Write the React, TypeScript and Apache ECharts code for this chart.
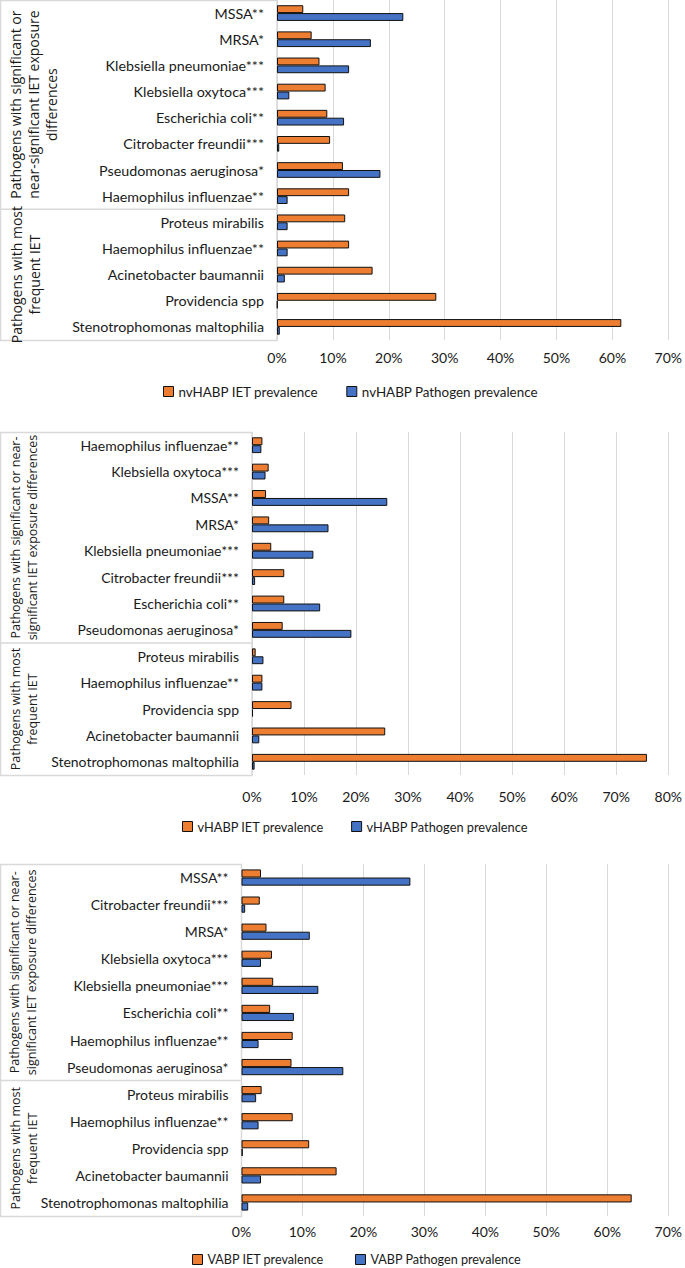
import React, { useEffect, useRef } from "react";
import * as echarts from "echarts";

// ---------- data ----------
const CATS_NV = ["MSSA**", "MRSA*", "Klebsiella pneumoniae***", "Klebsiella oxytoca***", "Escherichia coli**", "Citrobacter freundii***", "Pseudomonas aeruginosa*", "Haemophilus influenzae**", "Proteus mirabilis", "Haemophilus influenzae**", "Acinetobacter baumannii", "Providencia spp", "Stenotrophomonas maltophilia"];
const IET_NV = [4.7, 6.2, 7.6, 8.7, 9.0, 9.5, 11.8, 12.9, 12.2, 12.9, 17.1, 28.5, 61.6];
const PATH_NV = [22.6, 16.8, 12.9, 2.2, 12.0, 0.4, 18.5, 1.9, 1.9, 1.9, 1.4, 0.1, 0.5];

const CATS_V = ["Haemophilus influenzae**", "Klebsiella oxytoca***", "MSSA**", "MRSA*", "Klebsiella pneumoniae***", "Citrobacter freundii***", "Escherichia coli**", "Pseudomonas aeruginosa*", "Proteus mirabilis", "Haemophilus influenzae**", "Providencia spp", "Acinetobacter baumannii", "Stenotrophomonas maltophilia"];
const IET_V = [2.0, 3.2, 2.7, 3.3, 3.7, 6.2, 6.2, 5.9, 0.7, 2.0, 7.6, 25.6, 75.9];
const PATH_V = [1.8, 2.6, 26.0, 14.7, 11.8, 0.6, 13.1, 19.1, 2.2, 2.0, 0.2, 1.4, 0.5];

const CATS_VA = ["MSSA**", "Citrobacter freundii***", "MRSA*", "Klebsiella oxytoca***", "Klebsiella pneumoniae***", "Escherichia coli**", "Haemophilus influenzae**", "Pseudomonas aeruginosa*", "Proteus mirabilis", "Haemophilus influenzae**", "Providencia spp", "Acinetobacter baumannii", "Stenotrophomonas maltophilia"];
const IET_VA = [3.2, 3.0, 4.1, 5.0, 5.2, 4.7, 8.4, 8.2, 3.3, 8.4, 11.1, 15.6, 64.0];
const PATH_VA = [27.7, 0.6, 11.2, 3.2, 12.6, 8.6, 2.8, 16.7, 2.4, 2.8, 0.2, 3.2, 1.1];

const SERIES_NAMES = [
  ["nvHABP IET prevalence", "nvHABP Pathogen prevalence"],
  ["vHABP IET prevalence", "vHABP Pathogen prevalence"],
  ["VABP IET prevalence", "VABP Pathogen prevalence"],
];
const X_MAX = [70, 80, 70];
const GROUP_SIZES = [8, 5];
const GROUP_LABELS = [
  ["Pathogens with significant or\nnear-significant IET exposure\ndifferences", "Pathogens with most\nfrequent IET"],
  ["Pathogens with significant or near-\nsignificant IET exposure differences", "Pathogens with most\nfrequent IET"],
  ["Pathogens with significant or near-\nsignificant IET exposure differences", "Pathogens with most\nfrequent IET"],
];

// ---------- layout ----------
const W = 685;
const H = 1268;
const PANELS = [
  { left: 277, right: 14, top: 0, height: 340, legendTop: 385, legendLeft: 163, legendSize: 13.4, legendGap: 28, xMargin: 10, labelSize: 14.3, groupSize: 14, groupLH: 18, groupX: [33, 25] },
  { left: 252, right: 16, top: 432, height: 343, legendTop: 820, legendLeft: 182, legendSize: 12.8, legendGap: 27, xMargin: 14, labelSize: 14, groupSize: 12.5, groupLH: 17, groupX: [24, 24] },
  { left: 241.5, right: 13, top: 864, height: 352, legendTop: 1253, legendLeft: 192, legendSize: 12.6, legendGap: 31, xMargin: 8, labelSize: 14, groupSize: 12.5, groupLH: 17, groupX: [23, 24] },
];

const ORANGE = "#ED7D31";
const BLUE = "#4472C4";
const GRID_COLOR = "#D9D9D9";
const TEXT = "#1a1a1a";
const FONT = "Lato, 'Liberation Sans', sans-serif";
const GFONT = "'Open Sans', 'Noto Sans', sans-serif";

export default function App() {
  const ref = useRef<HTMLDivElement>(null);
  useEffect(() => {
    if (!ref.current) return;
    const chart = echarts.init(ref.current, undefined, { renderer: "svg" });
    const cats = [CATS_NV, CATS_V, CATS_VA];
    const iet = [IET_NV, IET_V, IET_VA];
    const path = [PATH_NV, PATH_V, PATH_VA];

    const grid: any[] = [];
    const xAxis: any[] = [];
    const yAxis: any[] = [];
    const series: any[] = [];
    const legend: any[] = [];
    const graphic: any[] = [];

    PANELS.forEach((p, i) => {
      grid.push({ left: p.left, right: p.right, top: p.top, height: p.height, containLabel: false });
      xAxis.push({
        type: "value",
        gridIndex: i,
        min: 0,
        max: X_MAX[i],
        interval: 10,
        axisLine: { show: false },
        axisTick: { show: false },
        splitLine: { lineStyle: { color: GRID_COLOR, width: 1 } },
        axisLabel: { formatter: (v: number) => `${v}%`, color: TEXT, fontFamily: FONT, fontSize: 14, margin: p.xMargin },
      });
      yAxis.push({
        type: "category",
        gridIndex: i,
        inverse: true,
        data: cats[i],
        axisLine: { show: false },
        axisTick: { show: false },
        axisLabel: { color: TEXT, fontFamily: FONT, fontSize: p.labelSize, margin: 13, interval: 0 },
      });
      const common = {
        type: "bar",
        xAxisIndex: i,
        yAxisIndex: i,
        barGap: "0%",
        barCategoryGap: "40%",
      };
      series.push({
        ...common,
        name: SERIES_NAMES[i][0],
        data: iet[i],
        itemStyle: { color: ORANGE, borderColor: "#111", borderWidth: 1 },
      });
      series.push({
        ...common,
        name: SERIES_NAMES[i][1],
        data: path[i],
        itemStyle: { color: BLUE, borderColor: "#111", borderWidth: 1 },
      });
      legend.push({
        data: SERIES_NAMES[i],
        top: p.legendTop,
        left: p.legendLeft,
        padding: 0,
        itemWidth: 10,
        itemHeight: 10,
        itemGap: p.legendGap,
        icon: "rect",
        itemStyle: { borderColor: "#111", borderWidth: 1 },
        textStyle: { color: TEXT, fontFamily: FONT, fontSize: p.legendSize },
      });

      // multi-level category box
      const band = p.height / cats[i].length;
      graphic.push({
        type: "rect",
        shape: { x: 0.5, y: p.top + 0.5, width: p.left - 0.5, height: p.height },
        style: { fill: "none", stroke: GRID_COLOR, lineWidth: 1.5 },
        silent: true,
      });
      const yDiv = p.top + GROUP_SIZES[0] * band;
      graphic.push({
        type: "line",
        shape: { x1: 0, y1: yDiv, x2: p.left, y2: yDiv },
        style: { stroke: GRID_COLOR, lineWidth: 1.5 },
        silent: true,
      });
      let start = p.top;
      GROUP_SIZES.forEach((g, gi) => {
        const end = start + g * band;
        graphic.push({
          type: "text",
          x: p.groupX[gi],
          y: (start + end) / 2,
          rotation: Math.PI / 2,
          style: {
            text: GROUP_LABELS[i][gi],
            fill: TEXT,
            font: `${p.groupSize}px ${GFONT}`,
            align: "center",
            verticalAlign: "middle",
            lineHeight: p.groupLH,
          },
          silent: true,
        });
        start = end;
      });
    });

    chart.setOption({
      animation: false,
      backgroundColor: "#fff",
      grid,
      xAxis,
      yAxis,
      series,
      legend,
      graphic,
    });
    return () => chart.dispose();
  }, []);
  return <div ref={ref} style={{ position: "absolute", left: 0, top: 0, width: W, height: H }} />;
}
